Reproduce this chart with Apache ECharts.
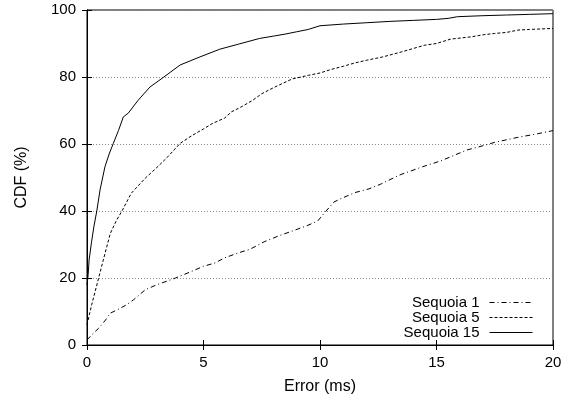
<!DOCTYPE html>
<html>
<head>
<meta charset="utf-8">
<script src="https://cdn.jsdelivr.net/npm/echarts@6/dist/echarts.min.js"></script>
<style>
  html, body { margin: 0; padding: 0; background: #fff; }
  #chart { width: 570px; height: 400px; }
</style>
</head>
<body>
<div id="chart"></div>
<script>
// Error (ms) / CDF (%) samples for each configuration
const seq1X = [0, 0.2, 0.5, 0.8, 1.0, 1.3, 1.7, 2.0, 2.5, 3.0, 3.8, 4.5, 5.0, 5.5, 5.9, 6.5, 7.0, 7.6, 8.2, 8.8, 9.4, 9.9, 10.2, 10.6, 11.0, 11.5, 12.1, 12.6, 13.4, 14.4, 15.2, 16.3, 17.0, 17.5, 18.5, 19.3, 20];
const seq1Y = [1.5, 3, 5, 7.5, 9.5, 10.5, 12, 13.5, 16.5, 18, 20, 22, 23.5, 24.5, 26, 27.5, 28.6, 30.8, 32.5, 34, 35.5, 37, 39.5, 42.7, 44, 45.5, 46.6, 48, 50.7, 53.2, 55, 58.2, 59.5, 60.5, 62, 63, 64];

const seq5X = [0, 0.1, 0.2, 0.35, 0.5, 0.7, 1.0, 1.25, 1.5, 1.9, 2.5, 3.0, 3.4, 4.0, 4.5, 5.0, 5.4, 5.9, 6.2, 6.6, 7.1, 7.5, 8.0, 8.8, 9.5, 10, 10.5, 11, 11.5, 12, 12.7, 13.5, 14, 14.5, 15, 15.6, 16.5, 17, 17.5, 18, 18.5, 19, 20];
const seq5Y = [6, 9, 12, 16, 20, 25.4, 33.3, 37, 40, 45.3, 49.8, 53, 55.7, 60.2, 62.5, 64.5, 66.2, 67.7, 69.6, 71, 73, 75, 76.8, 79.4, 80.5, 81.2, 82.3, 83.2, 84.2, 85, 86, 87.5, 88.5, 89.5, 90, 91.3, 92, 92.6, 93, 93.3, 94, 94.2, 94.5];

const seq15X = [0, 0.05, 0.09, 0.2, 0.3, 0.42, 0.56, 0.77, 0.95, 1.13, 1.35, 1.56, 1.77, 2.2, 2.7, 3.3, 4.0, 4.85, 5.7, 6.5, 7.4, 8.0, 8.5, 9.0, 9.5, 10.0, 11, 12, 13, 14, 15, 15.5, 15.9, 17, 18, 19, 20];
const seq15Y = [18, 21, 25.4, 31, 35.5, 40, 46.3, 53.2, 57, 60.2, 64, 68.1, 69.2, 73.1, 77, 80, 83.6, 86, 88.3, 89.8, 91.5, 92.2, 92.8, 93.5, 94.2, 95.3, 95.8, 96.2, 96.6, 96.9, 97.2, 97.5, 98, 98.3, 98.5, 98.7, 98.9];

const seriesNames = ['Sequoia 1', 'Sequoia 5', 'Sequoia 15'];

const pairs = (xs, ys) => xs.map((x, i) => [x, ys[i]]);

const font = 'Liberation Sans, Arial, Helvetica, sans-serif';
const tickStyle = { show: true, inside: true, length: 5, lineStyle: { color: '#000', width: 1 } };

const chart = echarts.init(document.getElementById('chart'), null, { renderer: 'canvas' });
chart.setOption({
  animation: false,
  backgroundColor: '#fff',
  grid: { left: 87, right: 17, top: 10, bottom: 55, show: true, borderColor: '#000', borderWidth: 1 },
  legend: {
    orient: 'vertical',
    right: 37,
    top: 295,
    align: 'right',
    itemWidth: 43,
    itemHeight: 10,
    itemGap: 0,
    padding: 0,
    itemStyle: { opacity: 0 },
    lineStyle: { width: 1 },
    textStyle: { fontFamily: font, fontSize: 15, lineHeight: 14, color: '#000', padding: [0, 5, 0, 0] },
    data: seriesNames
  },
  xAxis: [
    {
      type: 'value', min: 0, max: 20, interval: 5,
      name: 'Error (ms)', nameLocation: 'middle', nameGap: 34,
      nameTextStyle: { fontFamily: font, fontSize: 16, color: '#000' },
      axisLine: { lineStyle: { color: '#000' } },
      axisTick: tickStyle,
      axisLabel: { fontFamily: font, fontSize: 15, color: '#000', margin: 10 },
      splitLine: { show: false }
    },
    {
      type: 'value', min: 0, max: 20, interval: 5, position: 'top',
      axisLine: { lineStyle: { color: '#000' } },
      axisTick: tickStyle,
      axisLabel: { show: false },
      splitLine: { show: false }
    }
  ],
  yAxis: [
    {
      type: 'value', min: 0, max: 100, interval: 20,
      name: 'CDF (%)', nameLocation: 'middle', nameGap: 57,
      nameTextStyle: { fontFamily: font, fontSize: 16, color: '#000' },
      axisLine: { show: true, lineStyle: { color: '#000' } },
      axisTick: tickStyle,
      axisLabel: { fontFamily: font, fontSize: 15, color: '#000', margin: 11 },
      splitLine: { show: true, lineStyle: { color: '#888', type: [1, 2], width: 1 } }
    },
    {
      type: 'value', min: 0, max: 100, interval: 20, position: 'right',
      axisLine: { show: true, lineStyle: { color: '#000' } },
      axisTick: tickStyle,
      axisLabel: { show: false },
      splitLine: { show: false }
    }
  ],
  series: [
    {
      name: seriesNames[0], type: 'line', showSymbol: false, symbol: 'none',
      data: pairs(seq1X, seq1Y),
      lineStyle: { color: '#000', width: 1, type: [5, 3, 1, 3] },
      itemStyle: { color: '#000' }
    },
    {
      name: seriesNames[1], type: 'line', showSymbol: false, symbol: 'none',
      data: pairs(seq5X, seq5Y),
      lineStyle: { color: '#000', width: 1, type: [3, 2] },
      itemStyle: { color: '#000' }
    },
    {
      name: seriesNames[2], type: 'line', showSymbol: false, symbol: 'none',
      data: pairs(seq15X, seq15Y),
      lineStyle: { color: '#000', width: 1, type: 'solid' },
      itemStyle: { color: '#000' }
    }
  ]
});
</script>
</body>
</html>
